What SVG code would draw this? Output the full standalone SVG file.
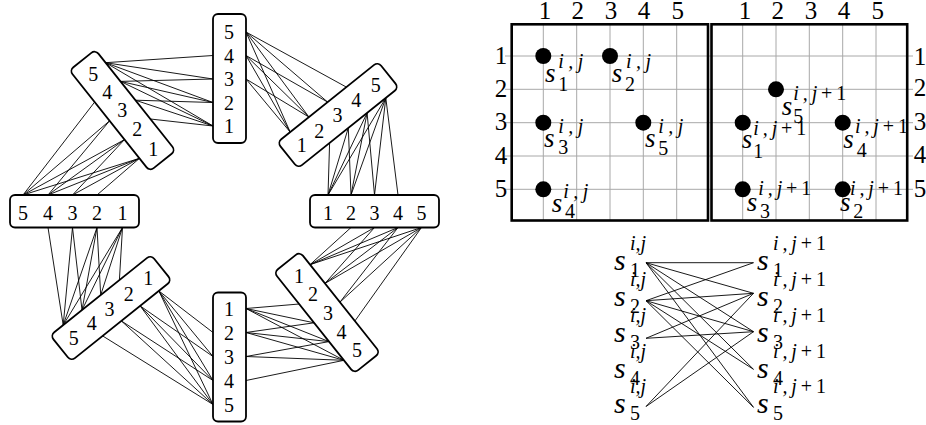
<svg xmlns="http://www.w3.org/2000/svg" width="926" height="425" viewBox="0 0 926 425" font-family="Liberation Serif, DejaVu Serif, serif">
<style>
.box{fill:#fff;stroke:#000;stroke-width:1.8}
.e{stroke:#000;stroke-width:0.9;fill:none}
.dg{font-size:20px;text-anchor:middle;fill:#000}
.lab{font-size:25px;text-anchor:middle;fill:#000}
.s{font-style:italic;font-size:27px;fill:#000}
.sb{font-style:italic;font-size:30px;fill:#000}
.sup{font-style:italic;font-size:20px;fill:#000}
.sub{font-size:20px;fill:#000}
.up{font-style:normal}
.grid{stroke:#a8a8a8;stroke-width:1;fill:none}
.frame{fill:none;stroke:#000;stroke-width:2.6}
</style>
<g id="connectors" class="e">
<line x1="105.5" y1="62.7" x2="213" y2="55.5"/>
<line x1="105.5" y1="62.7" x2="213" y2="79"/>
<line x1="105.5" y1="62.7" x2="213" y2="102.5"/>
<line x1="105.5" y1="62.7" x2="213" y2="126"/>
<line x1="120.5" y1="81.4" x2="213" y2="79"/>
<line x1="120.5" y1="81.4" x2="213" y2="102.5"/>
<line x1="120.5" y1="81.4" x2="213" y2="126"/>
<line x1="135.4" y1="100.2" x2="213" y2="102.5"/>
<line x1="135.4" y1="100.2" x2="213" y2="126"/>
<line x1="150.4" y1="119" x2="213" y2="126"/>
<line x1="246" y1="32" x2="346.4" y2="87.1"/>
<line x1="246" y1="32" x2="327.7" y2="102.1"/>
<line x1="246" y1="32" x2="309" y2="117.1"/>
<line x1="246" y1="32" x2="290.2" y2="132.1"/>
<line x1="246" y1="55.5" x2="327.7" y2="102.1"/>
<line x1="246" y1="55.5" x2="309" y2="117.1"/>
<line x1="246" y1="55.5" x2="290.2" y2="132.1"/>
<line x1="246" y1="79" x2="309" y2="117.1"/>
<line x1="246" y1="79" x2="290.2" y2="132.1"/>
<line x1="385.8" y1="97.9" x2="398" y2="195"/>
<line x1="385.8" y1="97.9" x2="374.5" y2="195"/>
<line x1="385.8" y1="97.9" x2="351" y2="195"/>
<line x1="385.8" y1="97.9" x2="328" y2="195"/>
<line x1="367.1" y1="112.9" x2="374.5" y2="195"/>
<line x1="367.1" y1="112.9" x2="351" y2="195"/>
<line x1="367.1" y1="112.9" x2="328" y2="195"/>
<line x1="348.3" y1="127.9" x2="351" y2="195"/>
<line x1="348.3" y1="127.9" x2="328" y2="195"/>
<line x1="329.6" y1="142.9" x2="328" y2="195"/>
<line x1="421.5" y1="227.5" x2="354.9" y2="321"/>
<line x1="421.5" y1="227.5" x2="339.9" y2="302.2"/>
<line x1="421.5" y1="227.5" x2="325" y2="283.4"/>
<line x1="421.5" y1="227.5" x2="310" y2="264.7"/>
<line x1="398" y1="227.5" x2="339.9" y2="302.2"/>
<line x1="398" y1="227.5" x2="325" y2="283.4"/>
<line x1="398" y1="227.5" x2="310" y2="264.7"/>
<line x1="374.5" y1="227.5" x2="325" y2="283.4"/>
<line x1="374.5" y1="227.5" x2="310" y2="264.7"/>
<line x1="351" y1="227.5" x2="310" y2="264.7"/>
<line x1="344" y1="360.3" x2="246" y2="380.5"/>
<line x1="344" y1="360.3" x2="246" y2="356.5"/>
<line x1="344" y1="360.3" x2="246" y2="332.5"/>
<line x1="344" y1="360.3" x2="246" y2="308.5"/>
<line x1="329" y1="341.6" x2="246" y2="356.5"/>
<line x1="329" y1="341.6" x2="246" y2="332.5"/>
<line x1="329" y1="341.6" x2="246" y2="308.5"/>
<line x1="314.1" y1="322.8" x2="246" y2="332.5"/>
<line x1="314.1" y1="322.8" x2="246" y2="308.5"/>
<line x1="299.2" y1="304" x2="246" y2="308.5"/>
<line x1="213" y1="404.5" x2="102.6" y2="335.9"/>
<line x1="213" y1="404.5" x2="121.3" y2="320.9"/>
<line x1="213" y1="404.5" x2="140.1" y2="305.9"/>
<line x1="213" y1="404.5" x2="158.8" y2="290.9"/>
<line x1="213" y1="380.5" x2="121.3" y2="320.9"/>
<line x1="213" y1="380.5" x2="140.1" y2="305.9"/>
<line x1="213" y1="380.5" x2="158.8" y2="290.9"/>
<line x1="213" y1="356.5" x2="140.1" y2="305.9"/>
<line x1="213" y1="356.5" x2="158.8" y2="290.9"/>
<line x1="213" y1="332.5" x2="158.8" y2="290.9"/>
<line x1="63.2" y1="325.1" x2="48" y2="227.5"/>
<line x1="63.2" y1="325.1" x2="72.5" y2="227.5"/>
<line x1="63.2" y1="325.1" x2="97" y2="227.5"/>
<line x1="63.2" y1="325.1" x2="122.5" y2="227.5"/>
<line x1="82" y1="310.1" x2="72.5" y2="227.5"/>
<line x1="82" y1="310.1" x2="97" y2="227.5"/>
<line x1="82" y1="310.1" x2="122.5" y2="227.5"/>
<line x1="100.7" y1="295.1" x2="97" y2="227.5"/>
<line x1="100.7" y1="295.1" x2="122.5" y2="227.5"/>
<line x1="119.4" y1="280.1" x2="122.5" y2="227.5"/>
<line x1="23" y1="195" x2="94.7" y2="102"/>
<line x1="23" y1="195" x2="109.6" y2="120.8"/>
<line x1="23" y1="195" x2="124.5" y2="139.6"/>
<line x1="23" y1="195" x2="139.5" y2="158.3"/>
<line x1="48" y1="195" x2="109.6" y2="120.8"/>
<line x1="48" y1="195" x2="124.5" y2="139.6"/>
<line x1="48" y1="195" x2="139.5" y2="158.3"/>
<line x1="72.5" y1="195" x2="124.5" y2="139.6"/>
<line x1="72.5" y1="195" x2="139.5" y2="158.3"/>
<line x1="97" y1="195" x2="139.5" y2="158.3"/>
<line x1="646" y1="262.7" x2="753.5" y2="262.7"/>
<line x1="646" y1="262.7" x2="753.5" y2="293.3"/>
<line x1="646" y1="262.7" x2="753.5" y2="331.7"/>
<line x1="646" y1="262.7" x2="753.5" y2="369.3"/>
<line x1="646" y1="262.7" x2="753.5" y2="407.3"/>
<line x1="646" y1="300.7" x2="753.5" y2="262.7"/>
<line x1="646" y1="300.7" x2="753.5" y2="293.3"/>
<line x1="646" y1="300.7" x2="753.5" y2="331.7"/>
<line x1="646" y1="300.7" x2="753.5" y2="369.3"/>
<line x1="646" y1="300.7" x2="753.5" y2="407.3"/>
<line x1="646" y1="338.3" x2="753.5" y2="293.3"/>
<line x1="646" y1="338.3" x2="753.5" y2="331.7"/>
<line x1="646" y1="406.5" x2="753.5" y2="293.3"/>
<line x1="646" y1="406.5" x2="753.5" y2="331.7"/>
</g>
<g id="node-T">
<rect class="box" x="213" y="14" width="33" height="129" rx="5"/>
<text class="dg" x="229" y="39">5</text><text class="dg" x="229" y="62.5">4</text><text class="dg" x="229" y="86">3</text><text class="dg" x="229" y="109.5">2</text><text class="dg" x="229" y="133">1</text>
</g>
<g id="node-B">
<rect class="box" x="213" y="292.5" width="33" height="129" rx="5"/>
<text class="dg" x="229" y="315.5">1</text><text class="dg" x="229" y="339.5">2</text><text class="dg" x="229" y="363.5">3</text><text class="dg" x="229" y="387.5">4</text><text class="dg" x="229" y="411.5">5</text>
</g>
<g id="node-L">
<rect class="box" x="10" y="195" width="129" height="32.5" rx="5"/>
<text class="dg" x="23" y="219.5">5</text><text class="dg" x="48" y="219.5">4</text><text class="dg" x="72.5" y="219.5">3</text><text class="dg" x="97" y="219.5">2</text><text class="dg" x="122.5" y="219.5">1</text>
</g>
<g id="node-R">
<rect class="box" x="310" y="195" width="129" height="32.5" rx="5"/>
<text class="dg" x="328" y="219.5">1</text><text class="dg" x="351" y="219.5">2</text><text class="dg" x="374.5" y="219.5">3</text><text class="dg" x="398" y="219.5">4</text><text class="dg" x="421.5" y="219.5">5</text>
</g>
<g id="node-UL">
<rect class="box" x="-64.5" y="-16.5" width="129" height="33" rx="5" transform="translate(122.5,110.5) rotate(51.5)"/>
<text class="dg" x="93.3" y="81">5</text><text class="dg" x="107.3" y="99.3">4</text><text class="dg" x="122.3" y="117.3">3</text><text class="dg" x="137.2" y="135.6">2</text><text class="dg" x="153.2" y="156">1</text>
</g>
<g id="node-UR">
<rect class="box" x="-64.5" y="-16.5" width="129" height="33" rx="5" transform="translate(338,115) rotate(-38.7)"/>
<text class="dg" x="301.8" y="151.5">1</text><text class="dg" x="319.2" y="137.5">2</text><text class="dg" x="337.5" y="122">3</text><text class="dg" x="356.3" y="106.5">4</text><text class="dg" x="375.8" y="92">5</text>
</g>
<g id="node-LL">
<rect class="box" x="-64.5" y="-16.5" width="129" height="33" rx="5" transform="translate(111,308) rotate(-38.7)"/>
<text class="dg" x="73.8" y="344.5">5</text><text class="dg" x="91.7" y="330">4</text><text class="dg" x="109.5" y="316">3</text><text class="dg" x="128.8" y="301">2</text><text class="dg" x="148.3" y="285">1</text>
</g>
<g id="node-LR">
<rect class="box" x="-64.5" y="-16.5" width="129" height="33" rx="5" transform="translate(327,312.5) rotate(51.5)"/>
<text class="dg" x="299" y="282.5">1</text><text class="dg" x="313" y="300.8">2</text><text class="dg" x="328" y="319.8">3</text><text class="dg" x="341.5" y="338.7">4</text><text class="dg" x="357" y="357">5</text>
</g>
<g id="grids">
<path class="grid" d="M505,56H913M505,89.3H913M505,122.7H913M505,156H913M505,189.3H913"/>
<path class="grid" d="M543.3,24.3V220.5M576.7,24.3V220.5M610,24.3V220.5M643.3,24.3V220.5M676.7,24.3V220.5"/>
<path class="grid" d="M742.7,24.3V220.5M776,24.3V220.5M809.3,24.3V220.5M842.7,24.3V220.5M876,24.3V220.5"/>
<rect class="frame" x="511.7" y="24.3" width="196.3" height="196.2"/>
<rect class="frame" x="711.5" y="24.3" width="195.7" height="196.2"/>
<text class="lab" x="545" y="19">1</text><text class="lab" x="577.7" y="19">2</text><text class="lab" x="611" y="19">3</text><text class="lab" x="644" y="19">4</text><text class="lab" x="677.7" y="19">5</text>
<text class="lab" x="745" y="19">1</text><text class="lab" x="777.7" y="19">2</text><text class="lab" x="811" y="19">3</text><text class="lab" x="844" y="19">4</text><text class="lab" x="877.7" y="19">5</text>
<text class="lab" x="501" y="63.5">1</text><text class="lab" x="501" y="96.8">2</text><text class="lab" x="501" y="130.2">3</text><text class="lab" x="501" y="163.5">4</text><text class="lab" x="501" y="196.8">5</text>
<text class="lab" x="920" y="64.5">1</text><text class="lab" x="920" y="96">2</text><text class="lab" x="920" y="130">3</text><text class="lab" x="920" y="163">4</text><text class="lab" x="920" y="196.8">5</text>
</g>
<g id="points-ij">
<circle cx="543.3" cy="56" r="8"/>
<text class="s" x="545" y="82">s</text><text class="sup" x="558.3" y="67.5" textLength="25" lengthAdjust="spacing">i,j</text><text class="sub" x="558.3" y="90.5">1</text>
<circle cx="610" cy="56" r="8"/>
<text class="s" x="611.7" y="82">s</text><text class="sup" x="626" y="67.5" textLength="25" lengthAdjust="spacing">i,j</text><text class="sub" x="625" y="90.5">2</text>
<circle cx="543.3" cy="122.7" r="8"/>
<text class="s" x="544" y="146.7">s</text><text class="sup" x="558.3" y="132.5" textLength="25" lengthAdjust="spacing">i,j</text><text class="sub" x="558.3" y="154">3</text>
<circle cx="643.3" cy="122.7" r="8"/>
<text class="s" x="645" y="146.7">s</text><text class="sup" x="658.3" y="132.5" textLength="25" lengthAdjust="spacing">i,j</text><text class="sub" x="658.3" y="154.5">5</text>
<circle cx="543.3" cy="189.3" r="8"/>
<text class="s" x="551.7" y="211.7">s</text><text class="sup" x="563.3" y="197.5" textLength="25" lengthAdjust="spacing">i,j</text><text class="sub" x="565" y="218.3">4</text>
</g>
<g id="points-ij1">
<circle cx="776" cy="89.3" r="8"/>
<text class="s" x="781.7" y="115">s</text><text class="sup" x="793.3" y="99.5" textLength="53" lengthAdjust="spacing">i,j<tspan class="up">+1</tspan></text><text class="sub" x="793.3" y="122.7">5</text>
<circle cx="742.7" cy="122.7" r="8"/>
<text class="s" x="741.7" y="148.3">s</text><text class="sup" x="753.3" y="134.5" textLength="53" lengthAdjust="spacing">i,j<tspan class="up">+1</tspan></text><text class="sub" x="753.3" y="158.3">1</text>
<circle cx="842.7" cy="122.7" r="8"/>
<text class="s" x="843.3" y="148.3">s</text><text class="sup" x="855" y="133" textLength="53" lengthAdjust="spacing">i,j<tspan class="up">+1</tspan></text><text class="sub" x="856.7" y="156.7">4</text>
<circle cx="742.7" cy="189.3" r="8"/>
<text class="s" x="746.7" y="210.7">s</text><text class="sup" x="758.3" y="194.5" textLength="53" lengthAdjust="spacing">i,j<tspan class="up">+1</tspan></text><text class="sub" x="760" y="218.3">3</text>
<circle cx="842.7" cy="189.3" r="8"/>
<text class="s" x="840" y="210.7">s</text><text class="sup" x="850" y="194.5" textLength="53" lengthAdjust="spacing">i,j<tspan class="up">+1</tspan></text><text class="sub" x="853.3" y="218.3">2</text>
</g>
<g id="bip-left">
<text class="sb" x="614" y="270">s</text><text class="sup" x="630" y="250">i,j</text><text class="sub" x="630" y="277">1</text>
<text class="sb" x="614" y="306">s</text><text class="sup" x="630" y="286">i,j</text><text class="sub" x="630" y="313">2</text>
<text class="sb" x="614" y="341.7">s</text><text class="sup" x="630" y="321.7">i,j</text><text class="sub" x="630" y="348.7">3</text>
<text class="sb" x="614" y="377.7">s</text><text class="sup" x="630" y="357.7">i,j</text><text class="sub" x="630" y="384.7">4</text>
<text class="sb" x="614" y="413.3">s</text><text class="sup" x="630" y="393.3">i,j</text><text class="sub" x="630" y="420.3">5</text>
</g>
<g id="bip-right">
<text class="sb" x="757" y="270">s</text><text class="sup" x="773" y="250" textLength="53" lengthAdjust="spacing">i,j<tspan class="up">+1</tspan></text><text class="sub" x="773" y="277">1</text>
<text class="sb" x="757" y="306">s</text><text class="sup" x="773" y="286" textLength="53" lengthAdjust="spacing">i,j<tspan class="up">+1</tspan></text><text class="sub" x="773" y="313">2</text>
<text class="sb" x="757" y="341.7">s</text><text class="sup" x="773" y="321.7" textLength="53" lengthAdjust="spacing">i,j<tspan class="up">+1</tspan></text><text class="sub" x="773" y="348.7">3</text>
<text class="sb" x="757" y="377.7">s</text><text class="sup" x="773" y="357.7" textLength="53" lengthAdjust="spacing">i,j<tspan class="up">+1</tspan></text><text class="sub" x="773" y="384.7">4</text>
<text class="sb" x="757" y="413.3">s</text><text class="sup" x="773" y="393.3" textLength="53" lengthAdjust="spacing">i,j<tspan class="up">+1</tspan></text><text class="sub" x="773" y="420.3">5</text>
</g>
</svg>
